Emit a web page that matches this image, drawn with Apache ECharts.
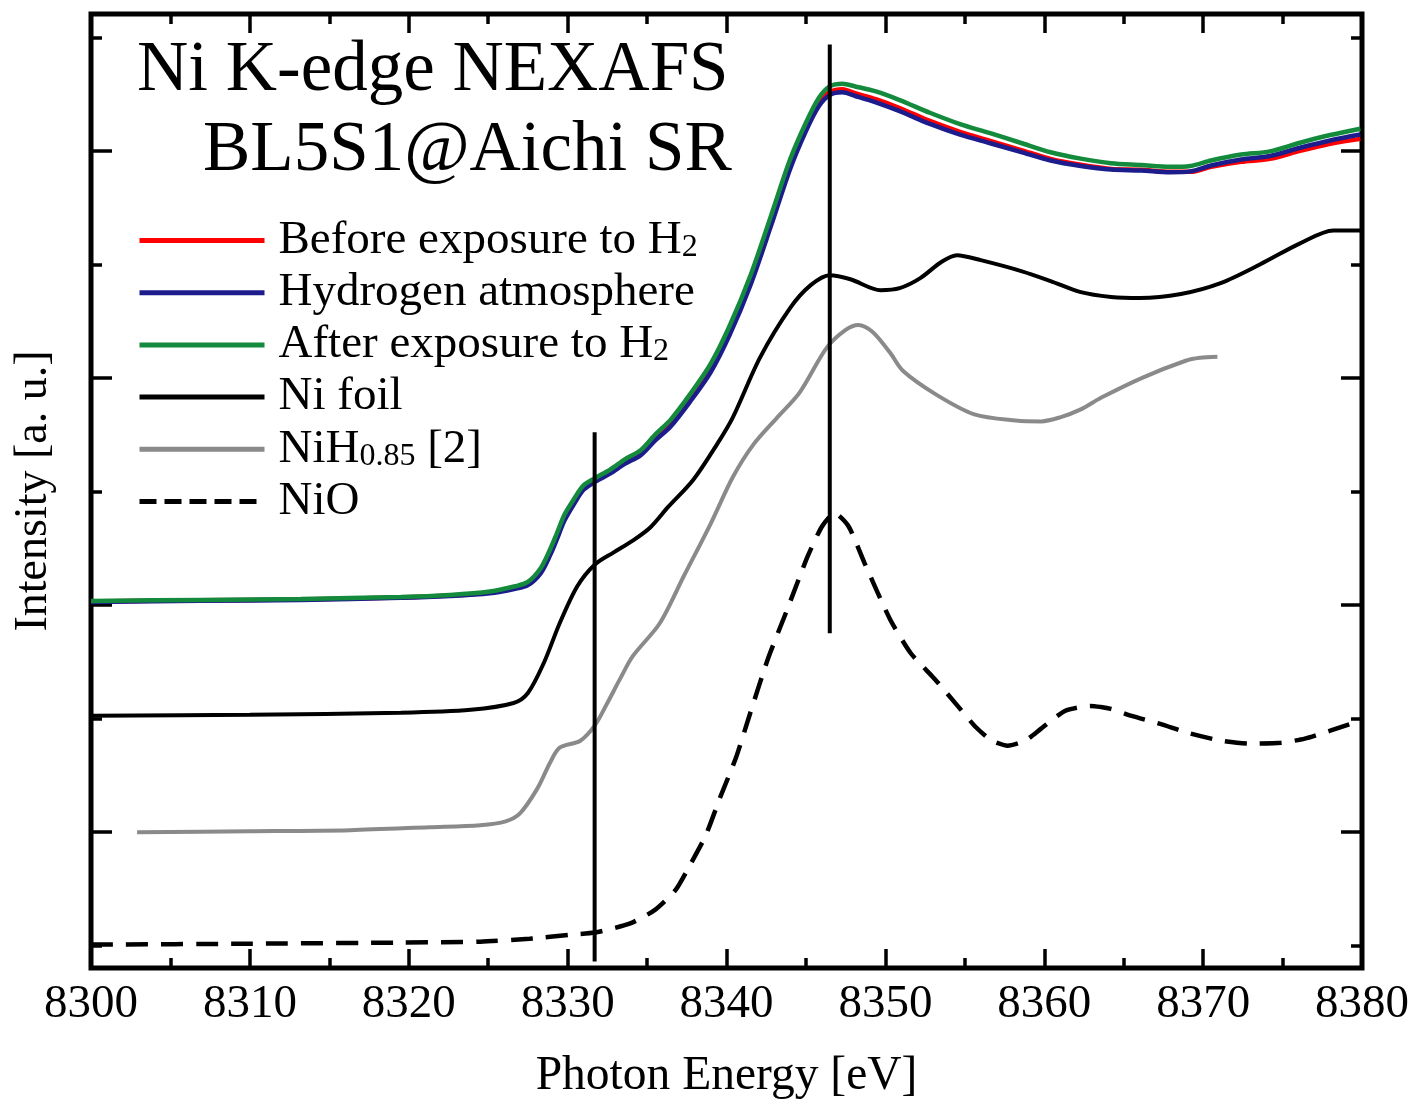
<!DOCTYPE html>
<html><head><meta charset="utf-8">
<script src="https://cdn.jsdelivr.net/npm/echarts@6/dist/echarts.min.js"></script>
<style>html,body{margin:0;padding:0;background:#fff}#c{width:1412px;height:1106px}</style>
</head><body><div id="c"></div><script>
// ---------- data ----------
const energyTop = [8300.0, 8306.9, 8313.2, 8319.5, 8322.6, 8325.1, 8326.7, 8327.5, 8328.3, 8328.9, 8329.3, 8329.8, 8330.4, 8331.0, 8331.7, 8332.7, 8333.6, 8334.6, 8335.5, 8336.5, 8337.7, 8339.0, 8340.2, 8341.5, 8342.8, 8344.0, 8345.0, 8345.8, 8346.5, 8347.3, 8348.1, 8349.4, 8350.9, 8352.8, 8354.7, 8356.6, 8358.5, 8360.4, 8362.3, 8364.2, 8366.1, 8367.9, 8369.2, 8370.5, 8372.4, 8374.2, 8376.1, 8378.0, 8379.9];
const beforeH2 = [1.016, 1.021, 1.025, 1.034, 1.042, 1.056, 1.078, 1.095, 1.152, 1.235, 1.301, 1.389, 1.459, 1.520, 1.551, 1.590, 1.634, 1.673, 1.739, 1.805, 1.914, 2.046, 2.212, 2.431, 2.694, 2.943, 3.106, 3.211, 3.259, 3.272, 3.254, 3.228, 3.189, 3.132, 3.084, 3.044, 3.005, 2.965, 2.939, 2.921, 2.917, 2.908, 2.908, 2.930, 2.952, 2.965, 3.000, 3.031, 3.053];
const hydrogenAtm = [1.014, 1.019, 1.023, 1.032, 1.040, 1.052, 1.072, 1.088, 1.140, 1.220, 1.286, 1.372, 1.445, 1.508, 1.542, 1.580, 1.622, 1.660, 1.724, 1.788, 1.895, 2.025, 2.190, 2.408, 2.670, 2.920, 3.088, 3.196, 3.246, 3.258, 3.242, 3.214, 3.175, 3.119, 3.072, 3.034, 2.996, 2.958, 2.934, 2.918, 2.914, 2.906, 2.910, 2.936, 2.962, 2.978, 3.014, 3.046, 3.072];
const afterH2 = [1.018, 1.023, 1.027, 1.036, 1.045, 1.060, 1.083, 1.102, 1.162, 1.246, 1.312, 1.398, 1.467, 1.527, 1.558, 1.598, 1.642, 1.682, 1.750, 1.818, 1.928, 2.062, 2.230, 2.450, 2.714, 2.962, 3.124, 3.232, 3.284, 3.296, 3.284, 3.262, 3.224, 3.168, 3.118, 3.078, 3.036, 2.994, 2.966, 2.946, 2.938, 2.930, 2.934, 2.958, 2.984, 2.998, 3.036, 3.070, 3.098];

const niFoilE = [8300.0, 8310.0, 8319.5, 8323.9, 8326.6, 8327.5, 8328.5, 8329.5, 8330.6, 8331.7, 8332.9, 8334.1, 8335.2, 8336.3, 8337.9, 8339.4, 8340.4, 8342.1, 8344.0, 8345.3, 8346.5, 8347.8, 8349.7, 8350.9, 8352.2, 8353.5, 8354.5, 8356.0, 8358.6, 8360.4, 8362.3, 8364.2, 8366.0, 8368.6, 8371.1, 8373.6, 8376.1, 8378.2, 8379.9];
const niFoilI = [0.513, 0.517, 0.526, 0.539, 0.569, 0.613, 0.745, 0.920, 1.082, 1.178, 1.232, 1.284, 1.342, 1.430, 1.551, 1.708, 1.827, 2.089, 2.308, 2.409, 2.453, 2.435, 2.387, 2.396, 2.440, 2.510, 2.541, 2.519, 2.470, 2.427, 2.378, 2.357, 2.352, 2.370, 2.418, 2.501, 2.593, 2.650, 2.650];

const niHE = [8302.9, 8310.0, 8316.3, 8321.3, 8324.5, 8326.1, 8327.0, 8328.1, 8328.9, 8329.5, 8330.8, 8331.7, 8332.5, 8333.3, 8334.1, 8335.8, 8337.3, 8339.0, 8340.4, 8341.7, 8343.2, 8344.6, 8346.3, 8347.5, 8348.3, 8349.2, 8350.3, 8351.1, 8353.2, 8355.6, 8358.2, 8359.8, 8361.0, 8362.3, 8363.6, 8366.2, 8368.9, 8369.8, 8370.9];
const niHI = [0.000, 0.004, 0.009, 0.022, 0.031, 0.048, 0.083, 0.193, 0.307, 0.372, 0.403, 0.469, 0.569, 0.675, 0.775, 0.920, 1.126, 1.358, 1.564, 1.708, 1.827, 1.936, 2.133, 2.212, 2.234, 2.203, 2.111, 2.032, 1.927, 1.840, 1.813, 1.809, 1.827, 1.862, 1.914, 2.002, 2.076, 2.089, 2.094];

const nioE = [8300.0, 8310.0, 8319.5, 8324.5, 8327.6, 8330.2, 8331.7, 8333.9, 8335.5, 8336.8, 8337.7, 8338.7, 8339.6, 8340.6, 8341.5, 8342.6, 8343.8, 8345.1, 8346.0, 8346.8, 8347.7, 8348.7, 8350.3, 8351.6, 8353.1, 8354.6, 8355.7, 8356.7, 8357.7, 8358.8, 8359.8, 8361.3, 8362.9, 8364.2, 8365.5, 8367.3, 8369.0, 8371.1, 8372.9, 8374.9, 8376.4, 8378.0, 8379.9];
const nioI = [-0.495, -0.491, -0.486, -0.482, -0.469, -0.451, -0.442, -0.403, -0.342, -0.254, -0.145, -0.013, 0.153, 0.329, 0.526, 0.762, 0.977, 1.213, 1.345, 1.406, 1.345, 1.183, 0.937, 0.788, 0.675, 0.552, 0.462, 0.403, 0.381, 0.403, 0.456, 0.534, 0.556, 0.543, 0.512, 0.477, 0.438, 0.403, 0.390, 0.394, 0.412, 0.447, 0.491];

// vertical reference lines (energy, lower and upper intensity)
const markerEnergy = [8331.7, 8346.5];
const markerLow = [-0.569, 0.876];
const markerHigh = [1.761, 3.469];

const seriesNames = ['Before exposure to H2', 'Hydrogen atmosphere', 'After exposure to H2', 'Ni foil', 'NiH0.85 [2]', 'NiO'];
const legendRich = {
  'Before exposure to H2': '{a|Before exposure to H}{s|2}',
  'Hydrogen atmosphere': '{a|Hydrogen atmosphere}',
  'After exposure to H2': '{a|After exposure to H}{s|2}',
  'Ni foil': '{a|Ni foil}',
  'NiH0.85 [2]': '{a|NiH}{s|0.85}{b| [2]}',
  'NiO': '{a|NiO}'
};
const xMin = 8300, xMax = 8380, xStep = 10;
const yMin = -0.598, yMax = 3.603;
const titleLines = ['Ni K-edge NEXAFS', 'BL5S1@Aichi SR'];

// ---------- chart ----------
const FONT = '"Liberation Serif", "Times New Roman", serif';
const pair = (xs, ys) => xs.map((x, i) => [x, ys[i]]);
const chart = echarts.init(document.getElementById('c'), null, {renderer: 'canvas'});

const tickStyle = {color: '#000', width: 3.5};
const xBase = {
  type: 'value', min: xMin, max: xMax, interval: xStep,
  splitLine: {show: false},
  axisLine: {show: false, onZero: false},
  axisTick: {show: true, inside: true, length: 19, lineStyle: tickStyle},
  minorTick: {show: true, splitNumber: 2, length: 10, lineStyle: tickStyle},
  minorSplitLine: {show: false}
};
const yBase = {
  type: 'value', min: yMin, max: yMax, splitNumber: 4,
  splitLine: {show: false},
  axisLine: {show: false, onZero: false},
  axisLabel: {show: false},
  axisTick: {show: true, inside: true, length: 21, lineStyle: tickStyle},
  minorTick: {show: true, splitNumber: 2, length: 11, lineStyle: tickStyle},
  minorSplitLine: {show: false}
};

function lineSeries(name, data, color, width, extra) {
  return Object.assign({
    name, type: 'line', data, showSymbol: false, symbol: 'none', smooth: 0.3,
    lineStyle: {color, width}, itemStyle: {color}, animation: false
  }, extra || {});
}

const series = [
  lineSeries(seriesNames[0], pair(energyTop, beforeH2), '#ff0000', 4.5, {z: 3}),
  lineSeries(seriesNames[1], pair(energyTop, hydrogenAtm), '#1c1c8c', 4.5, {z: 4}),
  lineSeries(seriesNames[2], pair(energyTop, afterH2), '#138a3c', 4.5, {z: 5}),
  lineSeries(seriesNames[3], pair(niFoilE, niFoilI), '#000000', 4, {z: 3}),
  lineSeries(seriesNames[4], pair(niHE, niHI), '#8a8a8a', 4, {z: 3}),
  lineSeries(seriesNames[5], pair(nioE, nioI), '#000000', 4.5, {z: 3, smooth: 0.2, lineStyle: {color: '#000', width: 4.5, type: [22, 13]}})
];
markerEnergy.forEach((e, i) => {
  series.push({
    name: 'marker' + i, type: 'line', data: [[e, markerLow[i]], [e, markerHigh[i]]],
    showSymbol: false, symbol: 'none', lineStyle: {color: '#000', width: 4}, z: 10, animation: false
  });
});

const option = {
  backgroundColor: '#ffffff',
  animation: false,
  grid: {left: 91, right: 49, top: 14, bottom: 132, show: true, borderColor: '#000', borderWidth: 5, backgroundColor: 'transparent'},
  xAxis: [
    Object.assign({}, xBase, {
      position: 'bottom',
      axisLabel: {show: true, margin: 13, fontFamily: FONT, fontSize: 47, color: '#000', formatter: v => String(v)},
      name: 'Photon Energy [eV]', nameLocation: 'middle', nameGap: 85,
      nameTextStyle: {fontFamily: FONT, fontSize: 47.5, color: '#000'}
    }),
    Object.assign({}, xBase, {position: 'top', axisLabel: {show: false}})
  ],
  yAxis: [
    Object.assign({}, yBase, {
      position: 'left',
      name: 'Intensity [a. u.]', nameLocation: 'middle', nameGap: 34, nameRotate: 90,
      nameTextStyle: {fontFamily: FONT, fontSize: 46, color: '#000'}
    }),
    Object.assign({}, yBase, {position: 'right'})
  ],
  legend: {
    orient: 'vertical', left: 137, top: 217, padding: 0,
    itemWidth: 125, itemHeight: 2, itemGap: 5.2,
    selectedMode: false,
    lineStyle: {width: 5},
    itemStyle: {opacity: 0},
    data: seriesNames.map(n => n === 'NiO' ? {name: n, lineStyle: {type: [17, 8], width: 5}} : {name: n}),
    formatter: name => legendRich[name],
    textStyle: {
      fontFamily: FONT, fontSize: 47, color: '#000', lineHeight: 46,
      rich: {
        a: {fontFamily: FONT, fontSize: 47, lineHeight: 46, color: '#000', padding: [0, 0, 0, 9]},
        b: {fontFamily: FONT, fontSize: 47, lineHeight: 46, color: '#000'},
        s: {fontFamily: FONT, fontSize: 32, lineHeight: 36, color: '#000', verticalAlign: 'bottom'}
      }
    }
  },
  graphic: [
    {type: 'text', left: 137, top: 36, z: 100, style: {text: titleLines[0], font: '71px ' + FONT, fill: '#000'}},
    {type: 'text', left: 203, top: 116, z: 100, style: {text: titleLines[1], font: '71px ' + FONT, fill: '#000'}}
  ],
  series
};
chart.setOption(option);
</script></body></html>
